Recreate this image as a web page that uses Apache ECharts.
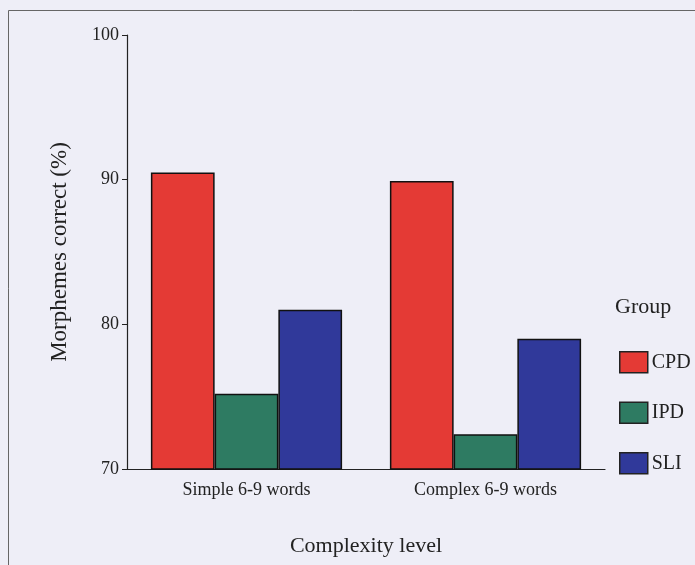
<!DOCTYPE html>
<html><head><meta charset="utf-8">
<script src="https://cdn.jsdelivr.net/npm/echarts@6/dist/echarts.min.js"></script>
<style>html,body{margin:0;padding:0;background:#eeeef7;}#c{width:695px;height:565px;}</style>
</head><body><div id="c"></div>
<script>
const categories = ['Simple 6-9 words', 'Complex 6-9 words'];
const groups = ['CPD', 'IPD', 'SLI'];
const cpdValues = [90.5, 89.9];
const ipdValues = [75.2, 72.4];
const sliValues = [81.0, 79.0];
const yTicks = [70, 80, 90, 100];
const colors = ['#e43a35', '#2e7b62', '#30399a'];

const font = '"Liberation Serif", "DejaVu Serif", serif';
const chart = echarts.init(document.getElementById('c'));
const seriesData = [cpdValues, ipdValues, sliValues];
chart.setOption({
  backgroundColor: '#eeeef7',
  animation: false,
  grid: {left: 127, right: 90, top: 35, bottom: 96},
  graphic: [
    {type: 'rect', shape: {x: 8.5, y: 10.5, width: 720, height: 600}, style: {fill: 'none', stroke: '#666', lineWidth: 1}},
    {type: 'text', left: 615, top: 296, style: {text: 'Group', font: '22px ' + font, fill: '#222'}}
  ],
  legend: {
    orient: 'vertical', left: 619, top: 351, padding: 0, itemWidth: 28, itemHeight: 21, itemGap: 28,
    icon: 'rect',
    itemStyle: {borderColor: '#222', borderWidth: 1.5},
    textStyle: {fontFamily: font, fontSize: 20, color: '#222', padding: [0, 0, 0, -1]},
    data: groups
  },
  xAxis: {
    type: 'category', data: categories,
    name: 'Complexity level', nameLocation: 'middle', nameGap: 66,
    nameTextStyle: {fontFamily: font, fontSize: 22, color: '#222'},
    axisLine: {lineStyle: {color: '#222', width: 1.2}},
    axisTick: {alignWithLabel: true, length: 5, lineStyle: {color: '#222'}},
    axisLabel: {fontFamily: font, fontSize: 18, color: '#222', margin: 12}
  },
  yAxis: {
    type: 'value', min: yTicks[0], max: yTicks[yTicks.length - 1], interval: 10,
    name: 'Morphemes correct (%)', nameLocation: 'middle', nameGap: 56, nameRotate: 90,
    nameTextStyle: {fontFamily: font, fontSize: 23, color: '#222'},
    axisLine: {show: true, lineStyle: {color: '#222', width: 1.2}},
    axisTick: {show: true, length: 5, lineStyle: {color: '#222'}},
    axisLabel: {fontFamily: font, fontSize: 18, color: '#222', margin: 8},
    splitLine: {show: false}
  },
  series: groups.map((g, i) => ({
    name: g, type: 'bar', data: seriesData[i],
    barGap: '0%', barCategoryGap: '20%',
    itemStyle: {color: colors[i], borderColor: '#111', borderWidth: 1.5}
  }))
});
</script></body></html>
